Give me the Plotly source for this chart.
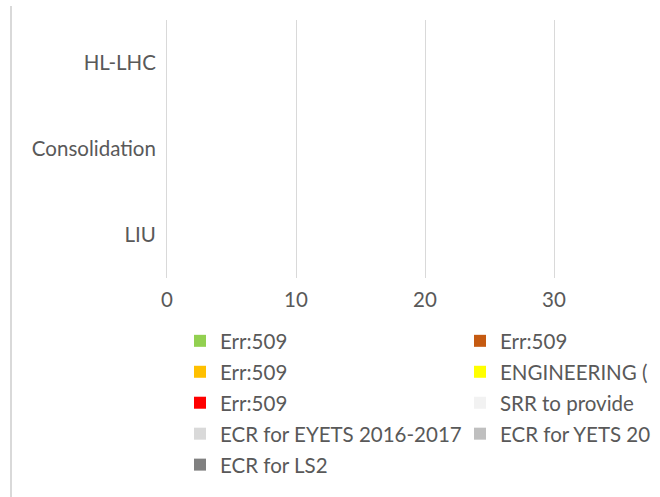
import plotly.graph_objects as go

categories = ["LIU", "Consolidation", "HL-LHC"]

series_names = [
    "Err:509", "Err:509", "Err:509", "ENGINEERING (",
    "Err:509", "SRR to provide", "ECR for EYETS 2016-2017",
    "ECR for YETS 20", "ECR for LS2",
]
series_colors = [
    "#92D050", "#C55A11", "#FFC000", "#FFFF00",
    "#FF0000", "#F2F2F2", "#D9D9D9", "#BFBFBF", "#808080",
]
# legend column (left / right), row-major like the original
series_legend = ["legend", "legend2", "legend", "legend2",
                 "legend", "legend2", "legend", "legend2", "legend"]

# values for LIU, Consolidation, HL-LHC (no bars visible -> zero)
v_green = [0, 0, 0]
v_brown = [0, 0, 0]
v_orange = [0, 0, 0]
v_yellow = [0, 0, 0]
v_red = [0, 0, 0]
v_srr = [0, 0, 0]
v_eyets = [0, 0, 0]
v_yets = [0, 0, 0]
v_ls2 = [0, 0, 0]
series_values = [v_green, v_brown, v_orange, v_yellow, v_red,
                 v_srr, v_eyets, v_yets, v_ls2]

xtick_vals = [0, 10, 20, 30]

FONT = "Lato"
FS = 20.5
TXT = "#595959"
GRID = "#D9D9D9"
W, H = 660, 497
L, T, B = 167, 20, 219
PX_PER_UNIT = 12.9

fig = go.Figure()
for i, (name, col, vals, lg) in enumerate(zip(series_names, series_colors, series_values, series_legend)):
    fig.add_trace(go.Bar(
        y=categories, x=vals, name=name, orientation="h",
        marker=dict(color=col, line=dict(width=0)), legend=lg, legendgroup=f"g{i}",
    ))

leg_common = dict(
    font=dict(family=FONT, size=FS, color=TXT),
    bgcolor="rgba(0,0,0,0)", borderwidth=0,
    xref="container", yref="container",
    xanchor="left", yanchor="top", tracegroupgap=1.3,
    orientation="v",
)

plot_h = H - T - B
fig.update_layout(
    template="none",
    width=W, height=H,
    margin=dict(l=L, r=0, t=T, b=B, autoexpand=False),
    paper_bgcolor="white", plot_bgcolor="white",
    barmode="stack", bargap=0.5,
    font=dict(family=FONT, size=FS, color=TXT),
    xaxis=dict(range=[0, (W - L) / PX_PER_UNIT], tickvals=xtick_vals,
               showgrid=True, gridcolor=GRID, gridwidth=1, zeroline=False,
               showline=False, ticks="", ticklabelstandoff=7,
               tickfont=dict(family=FONT, size=FS, color=TXT), fixedrange=True),
    yaxis=dict(showgrid=False, zeroline=False, showline=True, linecolor=GRID,
               linewidth=1, ticks="", ticklabelstandoff=6, type="category",
               tickfont=dict(family=FONT, size=FS, color=TXT), fixedrange=True),
    legend=dict(x=180 / W, y=1 - 321 / H, **leg_common),
    legend2=dict(x=460 / W, y=1 - 321 / H, **leg_common),
    showlegend=True,
    shapes=[dict(type="line", xref="paper", yref="paper",
                 x0=(11 - L) / (W - L), x1=(11 - L) / (W - L),
                 y0=(T + plot_h - 6) / plot_h, y1=(T + plot_h - H) / plot_h,
                 line=dict(color=GRID, width=2))],
)

fig.write_html("out.html", config=dict(displayModeBar=False),
               post_script="document.body.style.margin='0';document.body.style.overflow='hidden';")
